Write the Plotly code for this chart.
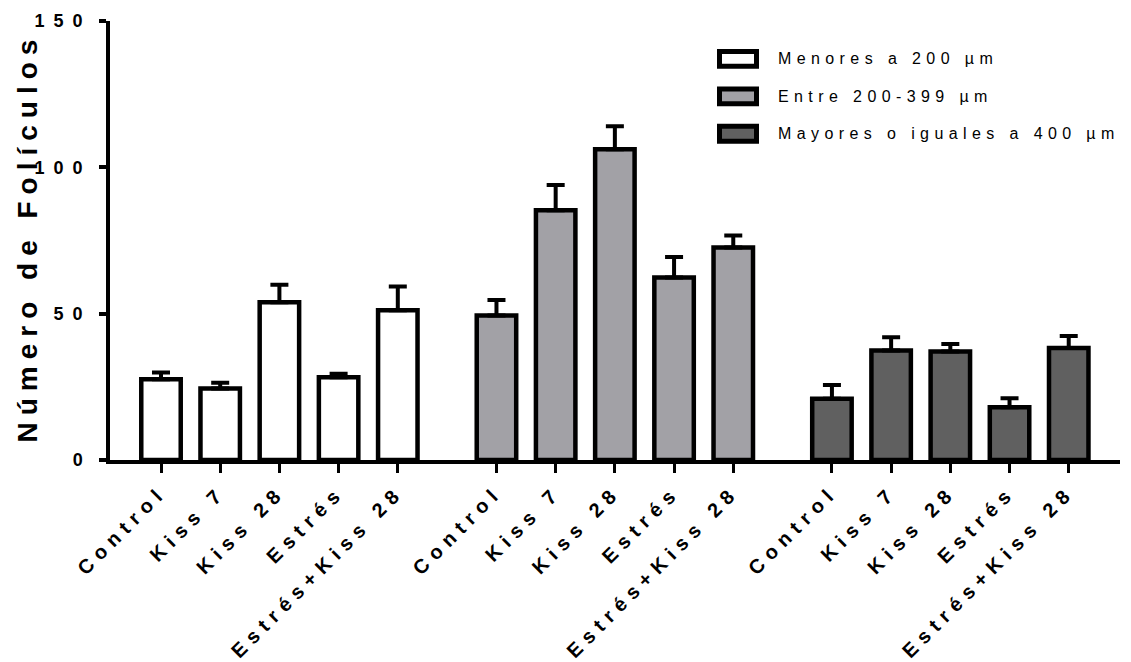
import plotly.graph_objects as go

# ---------------- data ----------------
categories = ["Control", "Kiss 7", "Kiss 28", "Estrés", "Estrés+Kiss 28"]
series_names = ["Menores a 200 µm", "Entre 200-399 µm", "Mayores o iguales a 400 µm"]
menores = [27.6, 24.4, 53.9, 28.3, 51.2]
menores_err = [2.3, 2.0, 6.0, 1.2, 8.1]
entre = [49.4, 85.3, 106.2, 62.4, 72.6]
entre_err = [5.3, 8.7, 7.8, 7.0, 4.1]
mayores = [20.9, 37.4, 37.1, 18.0, 38.3]
mayores_err = [4.7, 4.5, 2.5, 3.1, 4.1]
y_ticks = [0, 50, 100, 150]

values = [menores, entre, mayores]
errors = [menores_err, entre_err, mayores_err]
fills = ["#ffffff", "#a2a1a6", "#606060"]

FONT = "Liberation Sans, Arial, sans-serif"
GROUP_STEP = len(categories) + 2 / 3

fig = go.Figure()
tickvals, ticktext = [], []
for g, (vals, errs) in enumerate(zip(values, errors)):
    xs = [g * GROUP_STEP + i for i in range(len(categories))]
    tickvals += xs
    ticktext += categories
    fig.add_trace(go.Bar(
        x=xs, y=vals, name=series_names[g], width=2 / 3,
        marker=dict(color=fills[g], line=dict(color="black", width=4.5)),
        error_y=dict(type="data", array=errs, arrayminus=[0] * len(errs),
                     symmetric=False, color="black", thickness=4, width=9),
        showlegend=False,
    ))

# plot area in pixels
L, R, T, B = 110, 1120, 15, 460
W, H = 1131, 662
def px(x):
    return (x - L) / (R - L)
def py(y):
    return (B - y) / (B - T)

shapes, annotations = [], []
row_y = [53.3, 91.5, 129.3]
for i, name in enumerate(series_names):
    cy = row_y[i]
    shapes.append(dict(type="rect", xref="paper", yref="paper",
                       x0=px(719.5), x1=px(756.5), y0=py(cy + 7.5), y1=py(cy - 7.5),
                       fillcolor=fills[i], line=dict(color="black", width=5), layer="above"))
    annotations.append(dict(text=name, xref="paper", yref="paper", x=px(776), y=py(cy),
                            xanchor="left", yanchor="middle", showarrow=False,
                            font=dict(family=FONT, size=16, color="black")))

annotations.append(dict(text="<b>Número de Folículos</b>", xref="paper", yref="paper",
                        x=px(27), y=py(235), xanchor="center", yanchor="middle",
                        textangle=-90, showarrow=False,
                        font=dict(family=FONT, size=28, color="black")))

fig.update_layout(
    width=W, height=H,
    margin=dict(l=L, r=W - R, t=T, b=H - B, pad=0),
    paper_bgcolor="white", plot_bgcolor="white",
    barmode="overlay",
    shapes=shapes, annotations=annotations,
    font=dict(family=FONT, color="black"),
    xaxis=dict(range=[(L - 161) / 59.2, (R - 161) / 59.2],
               tickvals=tickvals, ticktext=ticktext, tickangle=-45,
               showline=True, linewidth=3.5, linecolor="black",
               ticks="outside", ticklen=9, tickwidth=3, tickcolor="black",
               showgrid=False, zeroline=False,
               tickfont=dict(family=FONT, size=20, color="black", weight="bold")),
    yaxis=dict(range=[0, 150], tickvals=y_ticks,
               showline=True, linewidth=3.5, linecolor="black",
               ticks="outside", ticklen=7, tickwidth=3.5, tickcolor="black",
               ticklabelstandoff=4,
               showgrid=False, zeroline=False,
               tickfont=dict(family=FONT, size=18, color="black", weight="bold")),
)

post = """
document.body.style.margin='0';
var gd=document.getElementById('{plot_id}');
function ls(sel,v){gd.querySelectorAll(sel).forEach(function(e){e.setAttribute('letter-spacing',v);});}
ls('.xtick text','6.5px');
ls('.ytick text','9px');
gd.querySelectorAll('.annotation').forEach(function(a){
  var idx=parseInt(a.getAttribute('data-index'));
  var t=a.querySelector('.annotation-text');
  if(!t) return;
  if(idx<3){
    var w0=t.getBBox().width;
    t.setAttribute('letter-spacing','5.4px');
    var w1=t.getBBox().width;
    t.setAttribute('transform','translate('+((w1-w0)/2)+',0)');
  } else {
    t.setAttribute('letter-spacing','7px');
  }
});
"""
fig.write_html("out.html", post_script=post, config={"displayModeBar": False})
